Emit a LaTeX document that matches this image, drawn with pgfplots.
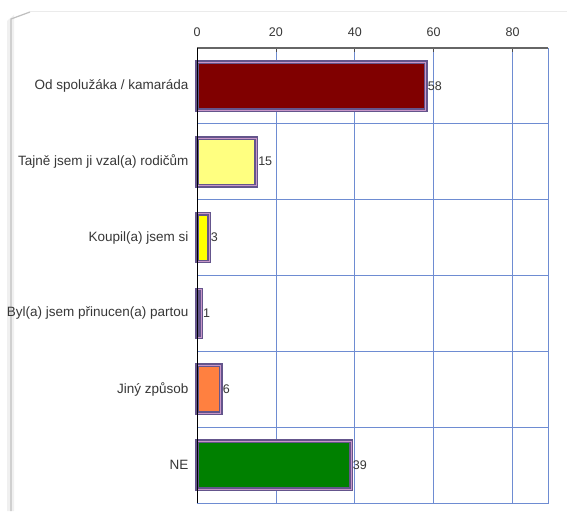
\documentclass[border=0pt]{standalone}
\usepackage{fontspec}
\setmainfont{Liberation Sans}
\usepackage{pgfplots}
\pgfplotsset{compat=1.18}

\definecolor{gridblue}{RGB}{110,140,210}
\definecolor{barline}{RGB}{100,85,140}
\definecolor{barinner}{RGB}{200,150,200}
\definecolor{txt}{RGB}{55,55,55}

\begin{document}
\begin{tikzpicture}
% page frame, 567 x 511
\path[use as bounding box] (0pt,0pt) rectangle (567pt,511pt);
\fill[white] (0pt,0pt) rectangle (567pt,511pt);
\fill[black!6] (7pt,0pt) -- (7pt,490pt) -- (14pt,496pt) -- (14pt,0pt) -- cycle;
\draw[black!25, line width=1.2pt] (11pt,0pt) -- (11pt,492pt) -- (30pt,499pt);
\draw[black!8, line width=0.8pt] (30pt,500pt) -- (567pt,500pt);

\begin{axis}[
    at={(197pt,8pt)}, anchor=south west,
    scale only axis, clip=false,
    width=351pt, height=455pt,
    xbar, bar shift=0pt, bar width=0.63,
    xmin=0, xmax=89,
    ymin=-0.5, ymax=5.5, y dir=reverse,
    ytick={0,1,2,3,4,5},
    yticklabels={Od spolužáka / kamaráda, Tajně jsem ji vzal(a) rodičům,
        Koupil(a) jsem si, Byl(a) jsem přinucen(a) partou, Jiný způsob, NE},
    minor ytick={0.5,1.5,2.5,3.5,4.5},
    y tick style={draw=none},
    ymajorgrids=false, yminorgrids=true,
    xtick={0,20,40,60,80},
    xmajorgrids=true,
    grid style={gridblue, line width=0.7pt},
    minor grid style={gridblue, line width=0.7pt},
    xtick pos=right, xticklabel pos=right,
    x tick style={black!70, line width=0.6pt},
    major tick length=4pt,
    axis line style={draw=none},
    xticklabel style={font=\fontsize{12.5}{14}\selectfont, text=txt, yshift=8pt},
    yticklabel style={font=\fontsize{13.5}{15}\selectfont, text=txt, xshift=-1pt},
    /pgf/number format/assume math mode=true,
    nodes near coords,
    nodes near coords style={font=\fontsize{12.5}{14}\selectfont, text=txt, anchor=west, xshift=-2pt},
    every axis plot/.append style={draw=barline, line width=1.6pt, double=barinner, double distance=0.6pt},
]
\addplot[fill={rgb,255:red,128;green,0;blue,0}] coordinates {(58,0)};
\addplot[fill={rgb,255:red,255;green,255;blue,128}] coordinates {(15,1)};
\addplot[fill={rgb,255:red,255;green,255;blue,0}] coordinates {(3,2)};
\addplot[fill={rgb,255:red,190;green,190;blue,240}] coordinates {(1,3)};
\addplot[fill={rgb,255:red,255;green,128;blue,64}] coordinates {(6,4)};
\addplot[fill={rgb,255:red,0;green,128;blue,0}] coordinates {(39,5)};
\draw[gridblue, line width=0.8pt] (axis cs:0,5.5) -- (axis cs:89,5.5) -- (axis cs:89,-0.5);
\draw[black!60, line width=1.6pt] (axis cs:0,-0.5) -- (axis cs:89,-0.5);
\draw[black, line width=0.9pt] (axis cs:0,-0.5) -- (axis cs:0,5.5);
\end{axis}
\end{tikzpicture}
\end{document}
